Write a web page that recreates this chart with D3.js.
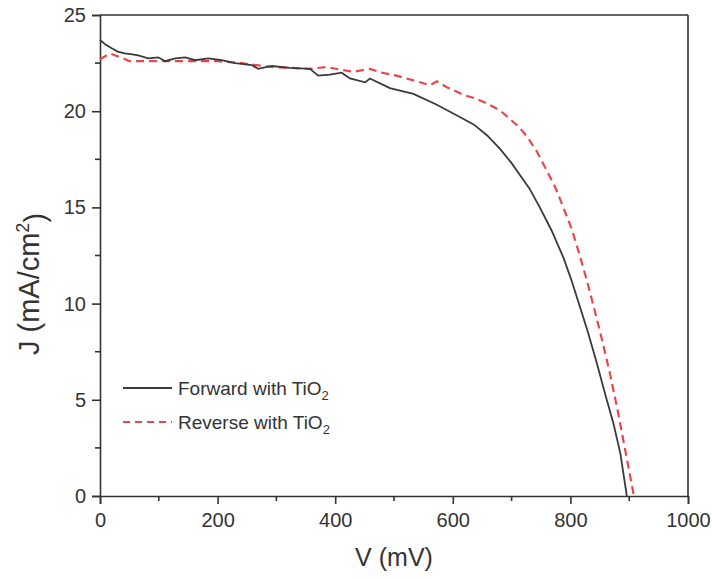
<!DOCTYPE html>
<html>
<head>
<meta charset="utf-8">
<script src="https://cdn.jsdelivr.net/npm/d3@7"></script>
<style>
  body { margin: 0; background: #fff; }
  text { font-family: "Liberation Sans", Arial, sans-serif; fill: #333; }
</style>
</head>
<body>
<div id="chart"></div>
<script>
// J-V curves (V in mV, J in mA/cm2)
var fwdV = [0, 10, 20, 30, 42, 55, 65, 82, 99, 111, 128, 145, 162, 184, 207, 230, 258, 269, 292, 323, 357, 371, 391, 411, 425, 451, 459, 493, 533, 572, 612, 636, 658, 680, 700, 709, 730, 748, 768, 788, 802, 816, 830, 845, 860, 873, 885, 896];
var fwdJ = [23.7, 23.45, 23.27, 23.1, 23.0, 22.95, 22.9, 22.75, 22.8, 22.6, 22.75, 22.8, 22.65, 22.75, 22.65, 22.5, 22.4, 22.2, 22.35, 22.25, 22.2, 21.85, 21.9, 22.0, 21.7, 21.5, 21.7, 21.2, 20.9, 20.35, 19.7, 19.3, 18.75, 18.05, 17.3, 16.9, 16.0, 15.0, 13.8, 12.4, 11.2, 9.85, 8.5, 6.9, 5.2, 3.8, 2.2, 0];

var revV = [0, 17, 35, 50, 100, 150, 200, 240, 290, 325, 357, 385, 410, 431, 459, 480, 504, 533, 561, 573, 590, 618, 640, 658, 680, 697, 712, 726, 743, 760, 775, 788, 802, 816, 828, 840, 854, 867, 880, 890, 900, 908];
var revJ = [22.7, 23.0, 22.8, 22.6, 22.6, 22.6, 22.6, 22.5, 22.3, 22.25, 22.2, 22.3, 22.15, 22.05, 22.2, 22.0, 21.85, 21.6, 21.35, 21.55, 21.25, 20.85, 20.65, 20.4, 20.05, 19.6, 19.2, 18.7, 17.9, 16.9, 16.0, 15.0, 13.9, 12.5, 11.2, 9.8, 8.1, 6.4, 4.5, 2.9, 1.3, 0];

var xTicks = [0, 200, 400, 600, 800, 1000];
var xMinor = [100, 300, 500, 700, 900];
var yTicks = [0, 5, 10, 15, 20, 25];
var yMinor = [2.5, 7.5, 12.5, 17.5, 22.5];

var seriesNames = ["Forward with TiO", "Reverse with TiO"];

var svgWidth = 712;
var svgHeight = 579;

var svg = d3.select("#chart")
  .append("svg")
  .attr("width", svgWidth)
  .attr("height", svgHeight);

var x = d3.scaleLinear().domain([0, 1000]).range([100, 688]);
var y = d3.scaleLinear().domain([0, 25]).range([496, 15]);

var axisColor = "#333";

// frame (top and right sides)
svg.append("line")
  .attr("x1", x(0)).attr("x2", x(1000))
  .attr("y1", y(25)).attr("y2", y(25))
  .attr("stroke", axisColor).attr("stroke-width", 1.6);
svg.append("line")
  .attr("x1", x(1000)).attr("x2", x(1000))
  .attr("y1", y(25)).attr("y2", y(0))
  .attr("stroke", axisColor).attr("stroke-width", 1.6);

// bottom axis
var bottomAxis = d3.axisBottom(x).tickValues(xTicks).tickSize(8).tickPadding(6).tickFormat(d3.format("d"));
var gx = svg.append("g")
  .attr("transform", `translate(0, ${y(0)})`)
  .call(bottomAxis);
gx.append("g").selectAll("line").data(xMinor).enter()
  .append("line")
  .attr("x1", d => x(d)).attr("x2", d => x(d))
  .attr("y1", 0).attr("y2", 5);

// left axis
var leftAxis = d3.axisLeft(y).tickValues(yTicks).tickSize(8).tickPadding(6);
var gy = svg.append("g")
  .attr("transform", `translate(${x(0)}, 0)`)
  .call(leftAxis);
gy.append("g").selectAll("line").data(yMinor).enter()
  .append("line")
  .attr("x1", -5).attr("x2", 0)
  .attr("y1", d => y(d)).attr("y2", d => y(d));

[gx, gy].forEach(function(g) {
  g.select(".domain").attr("stroke", axisColor).attr("stroke-width", 1.6);
  g.selectAll("line").attr("stroke", axisColor).attr("stroke-width", 1.6);
  g.selectAll("text").attr("font-size", "20px").attr("fill", axisColor)
    .attr("font-family", "'Liberation Sans', Arial, sans-serif");
});
gx.selectAll(".tick text").attr("dy", "0.85em");

// curves
var line = d3.line()
  .x(d => x(d[0]))
  .y(d => y(d[1]));

var fwd = fwdV.map((v, i) => [v, fwdJ[i]]);
var rev = revV.map((v, i) => [v, revJ[i]]);

svg.append("path")
  .datum(rev)
  .attr("fill", "none")
  .attr("stroke", "#e8474c")
  .attr("stroke-width", 2.2)
  .attr("stroke-dasharray", "8,5")
  .attr("d", line);

svg.append("path")
  .datum(fwd)
  .attr("fill", "none")
  .attr("stroke", "#3a3a3a")
  .attr("stroke-width", 1.8)
  .attr("d", line);

// legend
var legend = svg.append("g");
var legendStyles = [
  { color: "#3a3a3a", dash: null, width: 1.8 },
  { color: "#e8474c", dash: "7,5", width: 2.2 }
];
seriesNames.forEach(function(name, i) {
  var ly = 388 + i * 34;
  legend.append("line")
    .attr("x1", 123).attr("x2", 172)
    .attr("y1", ly).attr("y2", ly)
    .attr("stroke", legendStyles[i].color)
    .attr("stroke-width", legendStyles[i].width)
    .attr("stroke-dasharray", legendStyles[i].dash);
  var t = legend.append("text")
    .attr("x", 178).attr("y", ly + 7)
    .attr("font-size", "19px");
  t.append("tspan").text(name);
  t.append("tspan").attr("dy", "0.35em").attr("font-size", "13px").text("2");
});

// axis titles
svg.append("text")
  .attr("x", (x(0) + x(1000)) / 2)
  .attr("y", 566)
  .attr("text-anchor", "middle")
  .attr("font-size", "25px")
  .text("V (mV)");

var yTitle = svg.append("text")
  .attr("transform", "translate(39, 284) rotate(-90)")
  .attr("text-anchor", "middle")
  .attr("font-size", "29px");
yTitle.append("tspan").text("J (mA/cm");
yTitle.append("tspan").attr("dy", "-0.55em").attr("font-size", "18px").text("2");
yTitle.append("tspan").attr("dy", "0.55em").text(")");
</script>
</body>
</html>
